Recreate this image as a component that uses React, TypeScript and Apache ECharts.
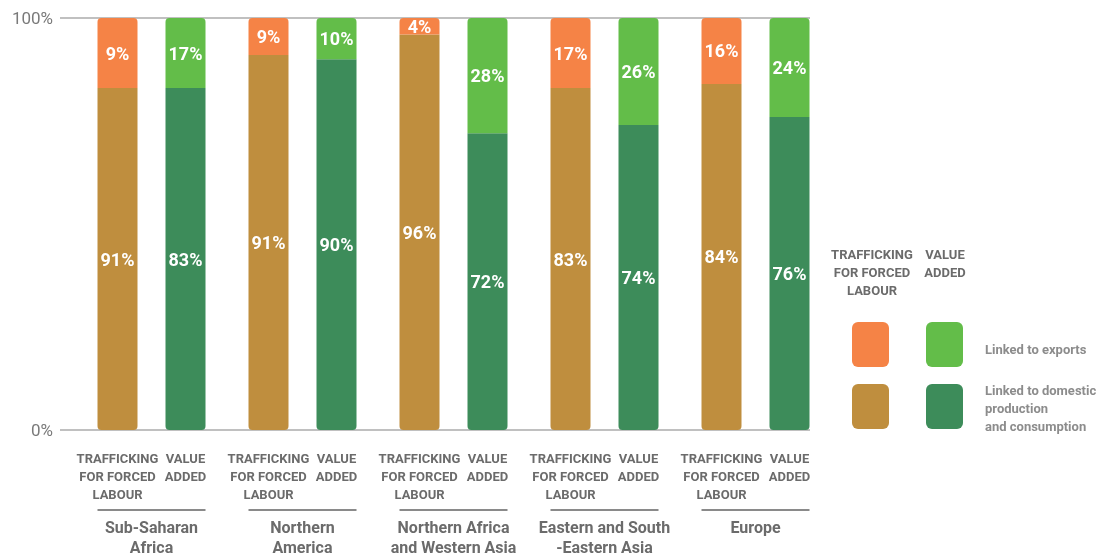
import React, { useEffect, useRef } from "react";
import * as echarts from "echarts";

const categories = [
  "Sub-Saharan\nAfrica",
  "Northern\nAmerica",
  "Northern Africa\nand Western Asia",
  "Eastern and South\n-Eastern Asia",
  "Europe",
];
// bar heights as drawn
const tfDomestic = [83, 91, 96, 83, 84];
const tfExports = [17, 9, 4, 17, 16];
const vaDomestic = [83, 90, 72, 74, 76];
const vaExports = [17, 10, 28, 26, 24];
// labels as printed
const tfDomesticLabels = [91, 91, 96, 83, 84];
const tfExportsLabels = [9, 9, 4, 17, 16];
const vaDomesticLabels = [83, 90, 72, 74, 76];
const vaExportsLabels = [17, 10, 28, 26, 24];
const yTicks = [0, 100];

const COLORS = {
  tfExp: "#F58346",
  tfDom: "#BF8E3E",
  vaExp: "#63BD49",
  vaDom: "#3D8C5A",
};

const SANS = "Roboto, 'Noto Sans', sans-serif";

export default function App() {
  const ref = useRef<HTMLDivElement>(null);
  useEffect(() => {
    if (!ref.current) return;
    const chart = echarts.init(ref.current, undefined, { renderer: "svg" });
    const barLabel = (labels: number[]) => ({
      show: true,
      position: "inside",
      color: "#fff",
      fontSize: 18,
      fontWeight: "bold",
      fontFamily: SANS,
      formatter: (p: any) => labels[p.dataIndex] + "%",
    });
    const subStyle = {
      fontFamily: SANS,
      fontWeight: "bold",
      fontSize: 13,
      color: "#6b6b6b",
      lineHeight: 18,
      width: 68,
      align: "center",
    };
    const headText = (text: string, x: number, y: number) => ({
      type: "text",
      x,
      y,
      style: {
        text,
        textAlign: "center",
        textVerticalAlign: "top",
        font: `bold 13px ${SANS}`,
        fill: "#6b6b6b",
        lineHeight: 18,
      },
    });
    const makeBar = (name: string, stack: string, data: number[], color: string, radius: number[], labels: number[]) => ({
      type: "bar",
      name,
      xAxisIndex: 1,
      yAxisIndex: 1,
      stack,
      data,
      barWidth: 40,
      barGap: "70%",
      itemStyle: { color, borderRadius: radius },
      label: barLabel(labels),
    });
    chart.setOption({
      animation: false,
      grid: [
        { left: 60, right: 295, top: 18, bottom: 128 },
        { left: 76, right: 274, top: 18, bottom: 128 },
      ],
      xAxis: [
        { type: "category", gridIndex: 0, data: categories, show: false },
        {
          type: "category",
          gridIndex: 1,
          data: categories,
          axisLine: { show: false },
          axisTick: { show: false },
          axisLabel: {
            interval: 0,
            margin: 19,
            align: "center",
            formatter: (v: string) => {
              const g = v.split("\n");
              return [
                "{a|TRAFFICKING}{b|VALUE}",
                "{a|FOR FORCED}{b|ADDED}",
                "{a|LABOUR}{b| }",
                "{sep| }",
                ...g.map((s) => `{g|${s}}`),
              ].join("\n");
            },
            rich: {
              a: subStyle,
              b: subStyle,
              sep: {
                width: 108,
                height: 2,
                lineHeight: 14,
                backgroundColor: "#8a8a8a",
                fontSize: 1,
              },
              g: {
                fontFamily: SANS,
                fontWeight: "bold",
                fontSize: 16,
                color: "#6b6b6b",
                lineHeight: 20,
                align: "center",
              },
            },
          },
        },
      ],
      yAxis: [
        {
          type: "value",
          gridIndex: 0,
          min: yTicks[0],
          max: yTicks[1],
          interval: 100,
          axisLine: { show: false },
          axisTick: { show: false },
          splitLine: { lineStyle: { color: "#ababab", width: 1.5 } },
          axisLabel: {
            formatter: "{value}%",
            margin: 7,
            fontSize: 17,
            color: "#7a7a7a",
            fontFamily: SANS,
          },
        },
        { type: "value", gridIndex: 1, min: 0, max: 100, show: false },
      ],
      series: [
        makeBar("tfDom", "tf", tfDomestic, COLORS.tfDom, [0, 0, 4, 4], tfDomesticLabels),
        makeBar("tfExp", "tf", tfExports, COLORS.tfExp, [4, 4, 0, 0], tfExportsLabels),
        makeBar("vaDom", "va", vaDomestic, COLORS.vaDom, [0, 0, 4, 4], vaDomesticLabels),
        makeBar("vaExp", "va", vaExports, COLORS.vaExp, [4, 4, 0, 0], vaExportsLabels),
      ],
      graphic: [
        headText("TRAFFICKING\nFOR FORCED\nLABOUR", 872, 245),
        headText("VALUE\nADDED", 945, 245),
        { type: "rect", shape: { x: 852, y: 322, width: 37, height: 45, r: 6 }, style: { fill: COLORS.tfExp } },
        { type: "rect", shape: { x: 926, y: 322, width: 37, height: 45, r: 6 }, style: { fill: COLORS.vaExp } },
        { type: "rect", shape: { x: 852, y: 384, width: 37, height: 45, r: 6 }, style: { fill: COLORS.tfDom } },
        { type: "rect", shape: { x: 926, y: 384, width: 37, height: 45, r: 6 }, style: { fill: COLORS.vaDom } },
        {
          type: "text",
          x: 985,
          y: 349,
          style: {
            text: "Linked to exports",
            textVerticalAlign: "middle",
            font: `bold 13px ${SANS}`,
            fill: "#8c8c8c",
          },
        },
        {
          type: "text",
          x: 985,
          y: 381,
          style: {
            text: "Linked to domestic\nproduction\nand consumption",
            textVerticalAlign: "top",
            font: `bold 13px ${SANS}`,
            fill: "#8c8c8c",
            lineHeight: 18,
          },
        },
      ],
    });
    return () => chart.dispose();
  }, []);
  return (
    <div
      ref={ref}
      style={{ position: "fixed", left: 0, top: 0, width: 1105, height: 558 }}
    />
  );
}
